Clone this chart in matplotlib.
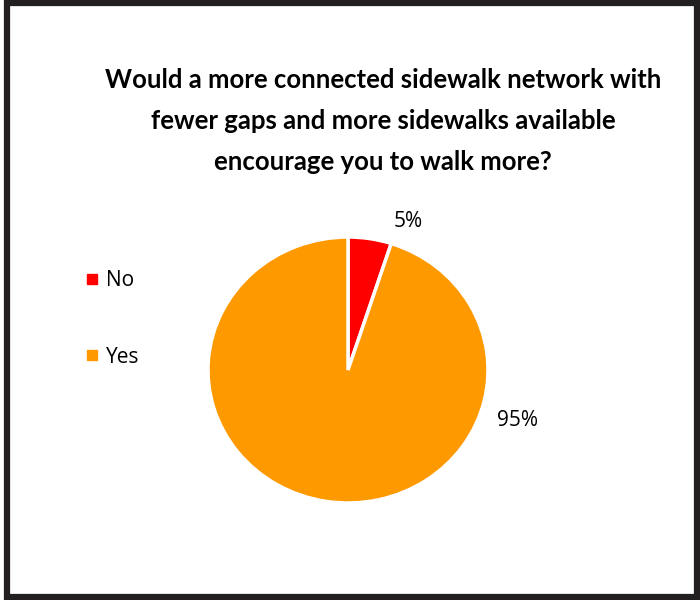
import matplotlib
matplotlib.use("Agg")
import matplotlib.pyplot as plt
from matplotlib.patches import Rectangle
from matplotlib.lines import Line2D

labels = ["No", "Yes"]
values = [5, 95]
colors = ["#ff0000", "#ff9900"]
title_lines = [
    "Would a more connected sidewalk network with",
    "fewer gaps and more sidewalks available",
    "encourage you to walk more?",
]

fig = plt.figure(figsize=(7, 6), dpi=100)

# dark frame around the chart
fig.patches.append(Rectangle((0.01, 0.005), 0.985, 0.99, transform=fig.transFigure,
                             fill=False, edgecolor="#231f20", linewidth=4.5))

# title
for i, line in enumerate(title_lines):
    fig.text(383 / 700, 1 - (80 + 41 * i) / 600, line, ha="center", va="center",
             fontsize=18.5, fontweight="bold", family="Lato", color="black")

# pie, a little wider than tall like the original
ax = fig.add_axes([208 / 700, 1 - 503 / 600, 280 / 700, 266 / 600])
wedges, _ = ax.pie(values, colors=colors, startangle=90, counterclock=False,
                   wedgeprops=dict(edgecolor="white", linewidth=2.5))
ax.set_xlim(-1, 1)
ax.set_ylim(-1, 1)
ax.set_aspect("auto")
ax.axis("off")

ax.text(0.43, 1.12, f"{values[0]}%", ha="center", va="center", fontsize=15, family="Open Sans")
ax.text(1.21, -0.38, f"{values[1]}%", ha="center", va="center", fontsize=15, family="Open Sans")

handles = [Line2D([], [], marker="s", color=c, linestyle="none", markersize=7.5) for c in colors]
fig.legend(handles, labels, loc="center left", bbox_to_anchor=(63 / 700, 1 - 319 / 600),
           frameon=False, labelspacing=2.65, handletextpad=0.15, handlelength=1.0,
           prop={"family": "Open Sans", "size": 15})

fig.savefig("out.png", dpi=100, facecolor="white")
